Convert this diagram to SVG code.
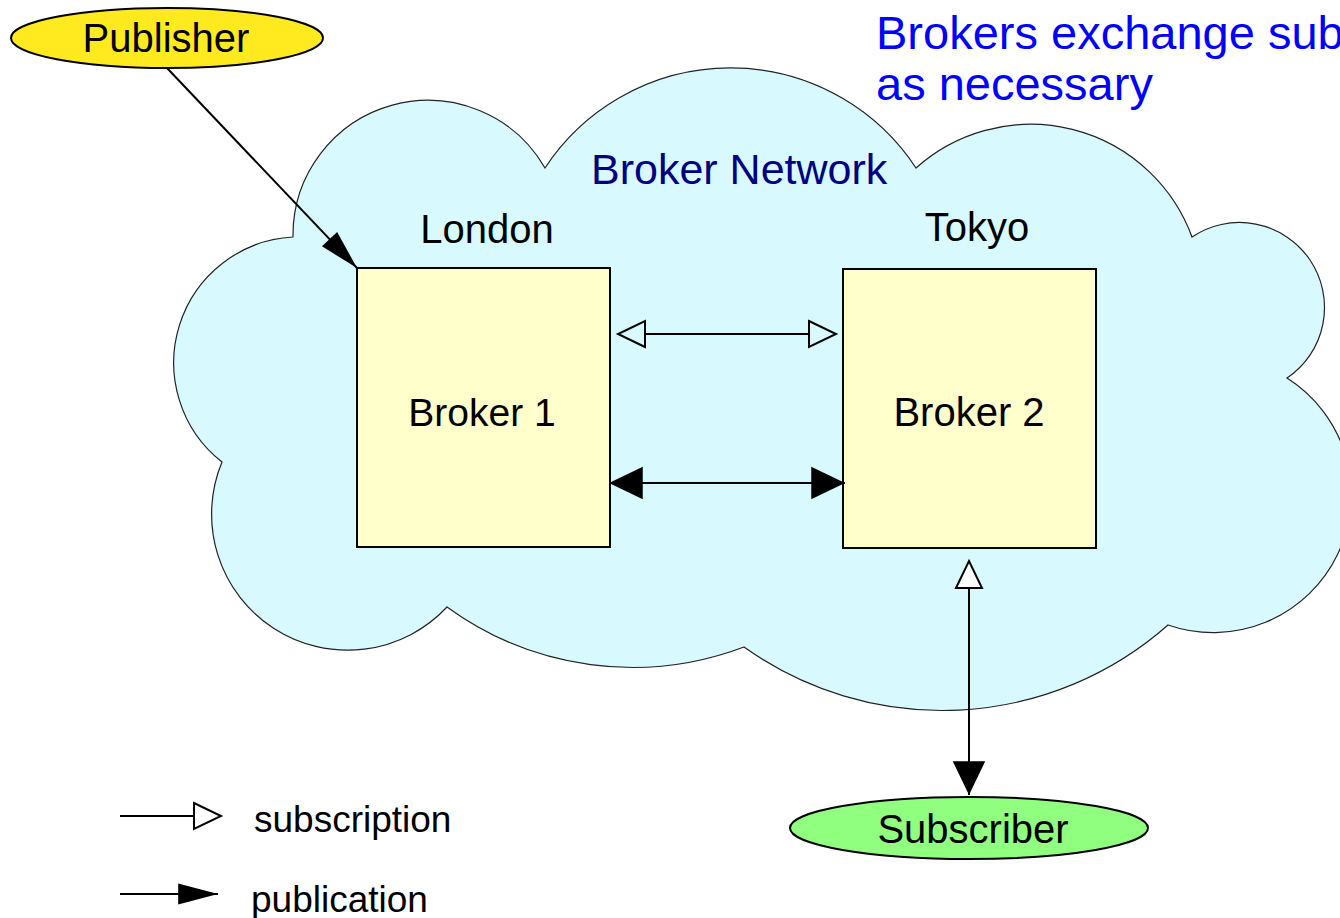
<svg xmlns="http://www.w3.org/2000/svg" width="1340" height="918" viewBox="0 0 1340 918">
  <style>
    text { font-family: "Liberation Sans", Arial, sans-serif; fill: #000; }
    .lbl { font-size: 40px; }
    .legend { font-size: 37px; }
    .note { font-size: 47px; fill: #0000ff; }
    .net { font-size: 43px; fill: #000080; }
    .box { fill: #ffffcc; stroke: #000; stroke-width: 2; }
    .conn { stroke: #000; stroke-width: 2; fill: none; }
  </style>
  <defs>
    <!-- filled head, tip at path end -->
    <marker id="pub" markerUnits="userSpaceOnUse" markerWidth="40" markerHeight="40" viewBox="-30 -15 32 30" refX="0" refY="0" orient="auto-start-reverse" overflow="visible">
      <path d="M-27,-13 L0,0 L-27,13 Z" fill="#000"/>
    </marker>
    <!-- long slim filled head -->
    <marker id="pubLong" markerUnits="userSpaceOnUse" markerWidth="44" markerHeight="30" viewBox="-40 -12 42 24" refX="0" refY="0" orient="auto" overflow="visible">
      <path d="M-38,-10 L0,0 L-38,10 Z" fill="#000"/>
    </marker>
    <!-- open head, base at path end -->
    <marker id="sub" markerUnits="userSpaceOnUse" markerWidth="32" markerHeight="32" viewBox="-2 -15 32 30" refX="0" refY="0" orient="auto-start-reverse" overflow="visible">
      <path d="M0,-13 L27,0 L0,13 Z" fill="none" stroke="#000" stroke-width="2" stroke-linejoin="miter"/>
    </marker>
    <marker id="subW" markerUnits="userSpaceOnUse" markerWidth="32" markerHeight="32" viewBox="-2 -15 32 30" refX="0" refY="0" orient="auto-start-reverse" overflow="visible">
      <path d="M0,-13 L27,0 L0,13 Z" fill="#fff" stroke="#000" stroke-width="2" stroke-linejoin="miter"/>
    </marker>
  </defs>

  <rect width="1340" height="918" fill="#fff"/>

  <!-- broker network cloud -->
  <g id="cloud">
    <path d="M293,237 A135,135 0 0 1 545,168 A222,222 0 0 1 916,168 A172,172 0 0 1 1192,237 A84,84 0 0 1 1287,378 A138,138 0 0 1 1168,625 A341,341 0 0 1 744,647 A315,315 0 0 1 447,607 A136,136 0 0 1 222,462 A126,126 0 0 1 293,237 Z" fill="#d8faff" stroke="#222" stroke-width="1.2"/>
    <text class="net" x="591" y="184">Broker Network</text>
  </g>

  <g id="note">
    <text class="note" x="876" y="49">Brokers exchange sub</text>
    <text class="note" x="876" y="100">as necessary</text>
  </g>

  <g id="publisher">
    <ellipse cx="167" cy="38" rx="156" ry="30" fill="#ffea20" stroke="#000" stroke-width="2"/>
    <text class="lbl" x="166" y="52" text-anchor="middle">Publisher</text>
  </g>

  <g id="broker1">
    <text class="lbl" x="487" y="243" text-anchor="middle">London</text>
    <rect class="box" x="357" y="268" width="253" height="279"/>
    <text class="lbl" x="482" y="426" text-anchor="middle" style="font-size:39px">Broker 1</text>
  </g>

  <g id="broker2">
    <text class="lbl" x="977" y="241" text-anchor="middle">Tokyo</text>
    <rect class="box" x="843" y="269" width="253" height="279"/>
    <text class="lbl" x="969" y="426" text-anchor="middle">Broker 2</text>
  </g>

  <g id="subscriber">
    <ellipse cx="969" cy="828" rx="179" ry="31" fill="#90ff80" stroke="#000" stroke-width="2"/>
    <text class="lbl" x="973" y="843" text-anchor="middle">Subscriber</text>
  </g>

  <g id="connectors">
    <line class="conn" x1="167" y1="68" x2="357" y2="268" marker-end="url(#pubLong)"/>
    <line class="conn" x1="645" y1="334" x2="809" y2="334" marker-start="url(#sub)" marker-end="url(#sub)"/>
    <line class="conn" x1="609" y1="483" x2="845" y2="483" marker-start="url(#pub)" marker-end="url(#pub)"/>
    <line class="conn" x1="969" y1="588" x2="969" y2="795" marker-start="url(#subW)" marker-end="url(#pub)"/>
  </g>

  <g id="legend">
    <line class="conn" x1="120" y1="816" x2="194" y2="816" marker-end="url(#subW)"/>
    <text class="legend" x="254" y="832">subscription</text>
    <line class="conn" x1="120" y1="894" x2="218" y2="894" marker-end="url(#pubLong)"/>
    <text class="legend" x="251" y="912">publication</text>
  </g>
</svg>
